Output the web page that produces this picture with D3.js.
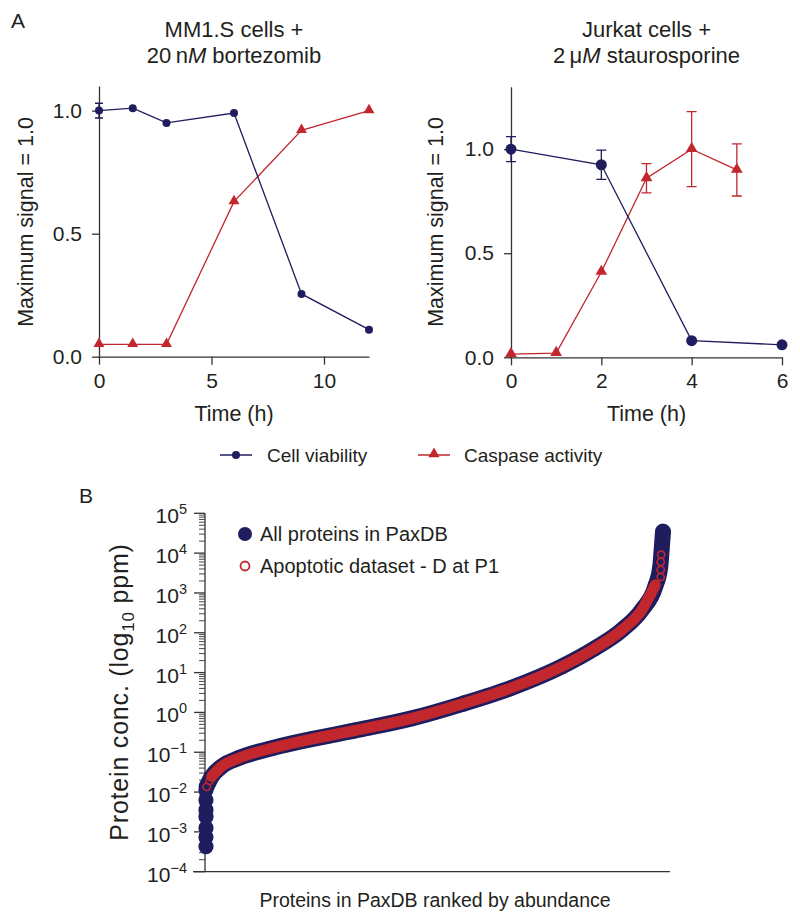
<!DOCTYPE html>
<html>
<head>
<meta charset="utf-8">
<script src="https://cdn.jsdelivr.net/npm/d3@7"></script>
<style>
  html, body { margin: 0; padding: 0; background: #fff; }
  svg { display: block; }
  text { font-family: "Liberation Sans", Arial, Helvetica, sans-serif; fill: #231f20; }
</style>
</head>
<body>
<svg id="chart" width="800" height="922"></svg>
<script>
// ---------------- DATA ----------------
// Panel A, left: MM1.S cells + 20 nM bortezomib
const timeMM = [0, 1.5, 3, 6, 9, 12];
const viabMM = [1.0, 1.01, 0.95, 0.99, 0.255, 0.11];
const viabMMErr = [0.03, 0, 0, 0, 0, 0];
const caspMM = [0.05, 0.05, 0.05, 0.63, 0.92, 1.0];
const caspMMErr = [0, 0, 0, 0, 0, 0];
const xTicksMM = [0, 5, 10];

// Panel A, right: Jurkat cells + 2 µM staurosporine
const timeJurkatViab = [0, 2, 4, 6];
const viabJurkat = [1.0, 0.925, 0.08, 0.06];
const viabJurkatErr = [0.06, 0.07, 0, 0];
const timeJurkatCasp = [0, 1, 2, 3, 4, 5];
const caspJurkat = [0.015, 0.02, 0.41, 0.86, 1.0, 0.9];
const caspJurkatErr = [0, 0, 0, 0.07, 0.18, 0.125];
const xTicksJurkat = [0, 2, 4, 6];

const yTicksA = [0, 0.5, 1.0];
const legendA = ["Cell viability", "Caspase activity"];

// Panel B: PaxDB proteins ranked by abundance (rank fraction, log10 ppm)
const paxRank = [0.0015, 0.0125, 0.034, 0.071, 0.144, 0.231, 0.341, 0.450, 0.560, 0.669, 0.778, 0.851, 0.910, 0.954, 0.983, 0.994, 0.997, 1.0];
const paxLog  = [-1.86, -1.61, -1.36, -1.15, -0.90, -0.67, -0.42, -0.15, 0.21, 0.62, 1.15, 1.61, 2.07, 2.58, 3.16, 3.66, 4.08, 4.54];
// least abundant tail (rank 0)
const paxTailRank = [0, 0, 0, 0, 0, 0, 0];
const paxTailLog  = [-1.95, -2.2, -2.45, -2.62, -2.9, -3.13, -3.37];
// apoptotic dataset band and isolated points
const apopRank = [0.0125, 0.034, 0.071, 0.144, 0.231, 0.341, 0.450, 0.560, 0.669, 0.778, 0.851, 0.910, 0.954, 0.983];
const apopLog  = [-1.61, -1.36, -1.15, -0.90, -0.67, -0.42, -0.15, 0.21, 0.62, 1.15, 1.61, 2.07, 2.58, 3.20];
const apopPtRank = [0.0015, 0.008, 0.995, 0.995, 0.995, 0.996];
const apopPtLog  = [-1.87, -1.72, 3.40, 3.58, 3.78, 3.96];
const yTicksBExp = [-4, -3, -2, -1, 0, 1, 2, 3, 4, 5];
const legendB = ["All proteins in PaxDB", "Apoptotic dataset - D at P1"];

// ---------------- STYLE ----------------
const NAVY = "#1f1d5e";
const RED = "#c1272d";
const AXIS = "#333";
const FS_TICK = 21;
const FS_TITLE = 22;
const FS_AXT = 21.5;
const FS_LEG = 19;

const svg = d3.select("#chart");

function panelA(opts) {
  const g = svg.append("g");
  const x = d3.scaleLinear().domain(opts.xDomain).range(opts.xRange);
  const y = d3.scaleLinear().domain(opts.yDomain).range(opts.yRange);

  const yAx = g.append("g").attr("transform", `translate(${opts.xRange[0]},0)`)
    .call(d3.axisLeft(y).tickValues(yTicksA).tickFormat(d3.format(".1f")).tickSize(7).tickPadding(10).tickSizeOuter(0));
  const xAx = g.append("g").attr("transform", `translate(0,${y(0)})`)
    .call(d3.axisBottom(x).tickValues(opts.xTicks).tickFormat(d3.format("d")).tickSize(8).tickPadding(8).tickSizeOuter(0));
  [yAx, xAx].forEach(a => {
    a.select(".domain").attr("stroke", AXIS).attr("stroke-width", 1.3);
    a.selectAll(".tick line").attr("stroke", AXIS).attr("stroke-width", 1.3);
    a.selectAll(".tick text").style("font-size", FS_TICK + "px").attr("fill", "#231f20")
      .style("font-family", '"Liberation Sans", Arial, sans-serif');
  });

  const line = d3.line().x(d => x(d[0])).y(d => y(d[1]));

  function series(ts, vs, errs, color, shape, r) {
    const pts = ts.map((t, i) => [t, vs[i], errs[i]]);
    g.append("path").datum(pts).attr("d", line).attr("fill", "none")
      .attr("stroke", color).attr("stroke-width", 1.3);
    pts.filter(p => p[2] > 0).forEach(p => {
      const cx = x(p[0]), y1 = y(p[1] + p[2]), y2 = y(p[1] - p[2]);
      const cw = opts.capW;
      g.append("path").attr("d", `M${cx},${y1}V${y2}M${cx - cw},${y1}H${cx + cw}M${cx - cw},${y2}H${cx + cw}`)
        .attr("stroke", color).attr("stroke-width", 1.3).attr("fill", "none");
    });
    if (shape === "circle") {
      g.selectAll(null).data(pts).enter().append("circle")
        .attr("cx", d => x(d[0])).attr("cy", d => y(d[1])).attr("r", r).attr("fill", color);
    } else {
      g.selectAll(null).data(pts).enter().append("path")
        .attr("d", d3.symbol().type(d3.symbolTriangle).size(r))
        .attr("transform", d => `translate(${x(d[0])},${y(d[1]) - 0.5})`).attr("fill", color);
    }
  }
  series(opts.caspT, opts.caspV, opts.caspE, RED, "tri", opts.triSize);
  series(opts.viabT, opts.viabV, opts.viabE, NAVY, "circle", opts.circR);

  const cx = (opts.xRange[0] + opts.xRange[1]) / 2;
  g.append("text").attr("x", cx).attr("y", 37).attr("text-anchor", "middle").style("font-size", FS_TITLE + "px").text(opts.title1);
  const t2 = g.append("text").attr("x", cx).attr("y", 63).attr("text-anchor", "middle").style("font-size", FS_TITLE + "px");
  opts.title2.forEach(p => t2.append("tspan").style("font-style", p[1] ? "italic" : "normal").text(p[0]));

  g.append("text").attr("x", cx).attr("y", 421).attr("text-anchor", "middle").style("font-size", FS_AXT + "px").text("Time (h)");
  g.append("text").attr("transform", `translate(${opts.yTitleX},222) rotate(-90)`).attr("text-anchor", "middle")
    .style("font-size", FS_AXT + "px").text("Maximum signal = 1.0");
}

panelA({
  xDomain: [0, 12], xRange: [99, 369], yDomain: [0, 1.1], yRange: [356.7, 86],
  xTicks: xTicksMM, capW: 4, circR: 4, triSize: 52,
  viabT: timeMM, viabV: viabMM, viabE: viabMMErr,
  caspT: timeMM, caspV: caspMM, caspE: caspMMErr,
  title1: "MM1.S cells +", title2: [["20\u2009n", false], ["M", true], [" bortezomib", false]],
  yTitleX: 33
});
panelA({
  xDomain: [0, 6], xRange: [511, 782], yDomain: [0, 1.3], yRange: [357.3, 86.7],
  xTicks: xTicksJurkat, capW: 5, circR: 5.5, triSize: 60,
  viabT: timeJurkatViab, viabV: viabJurkat, viabE: viabJurkatErr,
  caspT: timeJurkatCasp, caspV: caspJurkat, caspE: caspJurkatErr,
  title1: "Jurkat cells +", title2: [["2\u2009\u03bc", false], ["M", true], [" staurosporine", false]],
  yTitleX: 443
});

// panel labels
svg.append("text").attr("x", 11).attr("y", 28).style("font-size", "21px").text("A");
svg.append("text").attr("x", 79).attr("y", 503).style("font-size", "21px").text("B");

// Legend A
const lgA = svg.append("g");
lgA.append("line").attr("x1", 220).attr("x2", 252).attr("y1", 455).attr("y2", 455).attr("stroke", NAVY).attr("stroke-width", 1.5);
lgA.append("circle").attr("cx", 236).attr("cy", 455).attr("r", 4).attr("fill", NAVY);
lgA.append("text").attr("x", 267).attr("y", 462).style("font-size", FS_LEG + "px").text(legendA[0]);
lgA.append("line").attr("x1", 418).attr("x2", 450).attr("y1", 455).attr("y2", 455).attr("stroke", RED).attr("stroke-width", 1.5);
lgA.append("path").attr("d", d3.symbol().type(d3.symbolTriangle).size(55)).attr("transform", "translate(434,454)").attr("fill", RED);
lgA.append("text").attr("x", 464).attr("y", 462).style("font-size", FS_LEG + "px").text(legendA[1]);

// ---------------- PANEL B ----------------
const gB = svg.append("g");
const xB = d3.scaleLinear().domain([-0.0284, 1.0153]).range([193, 670]);
const yB = d3.scaleLog().domain([1e-4, 1e5]).range([871.7, 513.3]);

gB.append("line").attr("x1", 205).attr("x2", 205).attr("y1", yB(1e5)).attr("y2", yB(1e-4)).attr("stroke", AXIS).attr("stroke-width", 1.3);
gB.append("line").attr("x1", xB.range()[0]).attr("x2", xB.range()[1]).attr("y1", yB(1e-4)).attr("y2", yB(1e-4)).attr("stroke", AXIS).attr("stroke-width", 1.3);
yTicksBExp.forEach(e => {
  const v = Math.pow(10, e);
  gB.append("line").attr("x1", 194).attr("x2", 205).attr("y1", yB(v)).attr("y2", yB(v)).attr("stroke", AXIS).attr("stroke-width", 1.3);
  if (e < 5) {
    for (let k = 2; k <= 9; k++) {
      const mv = k * v;
      gB.append("line").attr("x1", 199).attr("x2", 205).attr("y1", yB(mv)).attr("y2", yB(mv)).attr("stroke", AXIS).attr("stroke-width", 0.9);
    }
  }
  const t = gB.append("text").attr("x", 187).attr("y", yB(v) + 10).attr("text-anchor", "end").style("font-size", "21px");
  t.append("tspan").text("10");
  t.append("tspan").attr("dy", -9).style("font-size", "14.5px").text(e < 0 ? "\u2212" + Math.abs(e) : String(e));
});

gB.append("text").attr("x", 435).attr("y", 907).attr("text-anchor", "middle").style("font-size", "19.5px").text("Proteins in PaxDB ranked by abundance");
const yt = gB.append("text").attr("transform", "translate(128,692) rotate(-90)").attr("text-anchor", "middle")
  .style("font-size", "25px").style("letter-spacing", "0.8px");
yt.append("tspan").text("Protein conc. (log");
yt.append("tspan").attr("dy", 6).style("font-size", "17px").text("10");
yt.append("tspan").attr("dy", -6).text(" ppm)");

// curves
const lineB = d3.line().x(d => xB(d[0])).y(d => yB(Math.pow(10, d[1]))).curve(d3.curveMonotoneX);
const paxPts = paxRank.map((r, i) => [r, paxLog[i]]);
const tailPts = paxTailRank.map((r, i) => [r, paxTailLog[i]]);
const apopPts = apopRank.map((r, i) => [r, apopLog[i]]);
const apopDots = apopPtRank.map((r, i) => [r, apopPtLog[i]]);

gB.append("path").datum(paxPts).attr("d", lineB).attr("fill", "none").attr("stroke", NAVY)
  .attr("stroke-width", 16).attr("stroke-linecap", "round").attr("stroke-linejoin", "round");
gB.selectAll(null).data(paxPts.concat(tailPts)).enter().append("circle")
  .attr("cx", d => xB(d[0])).attr("cy", d => yB(Math.pow(10, d[1]))).attr("r", 7.6).attr("fill", NAVY);
gB.append("path").datum(apopPts).attr("d", lineB).attr("fill", "none").attr("stroke", RED)
  .attr("stroke-width", 11).attr("stroke-linecap", "round").attr("stroke-linejoin", "round");
gB.selectAll(null).data(apopDots).enter().append("circle")
  .attr("cx", d => xB(d[0])).attr("cy", d => yB(Math.pow(10, d[1]))).attr("r", 3.6)
  .attr("fill", "none").attr("stroke", RED).attr("stroke-width", 1.6);

// Legend B
gB.append("circle").attr("cx", 245).attr("cy", 534).attr("r", 7).attr("fill", NAVY);
gB.append("text").attr("x", 260).attr("y", 541).style("font-size", "20px").text(legendB[0]);
gB.append("circle").attr("cx", 245).attr("cy", 566).attr("r", 4.5).attr("fill", "none").attr("stroke", RED).attr("stroke-width", 1.8);
gB.append("text").attr("x", 260).attr("y", 573).style("font-size", "20px").text(legendB[1]);
</script>
</body>
</html>
